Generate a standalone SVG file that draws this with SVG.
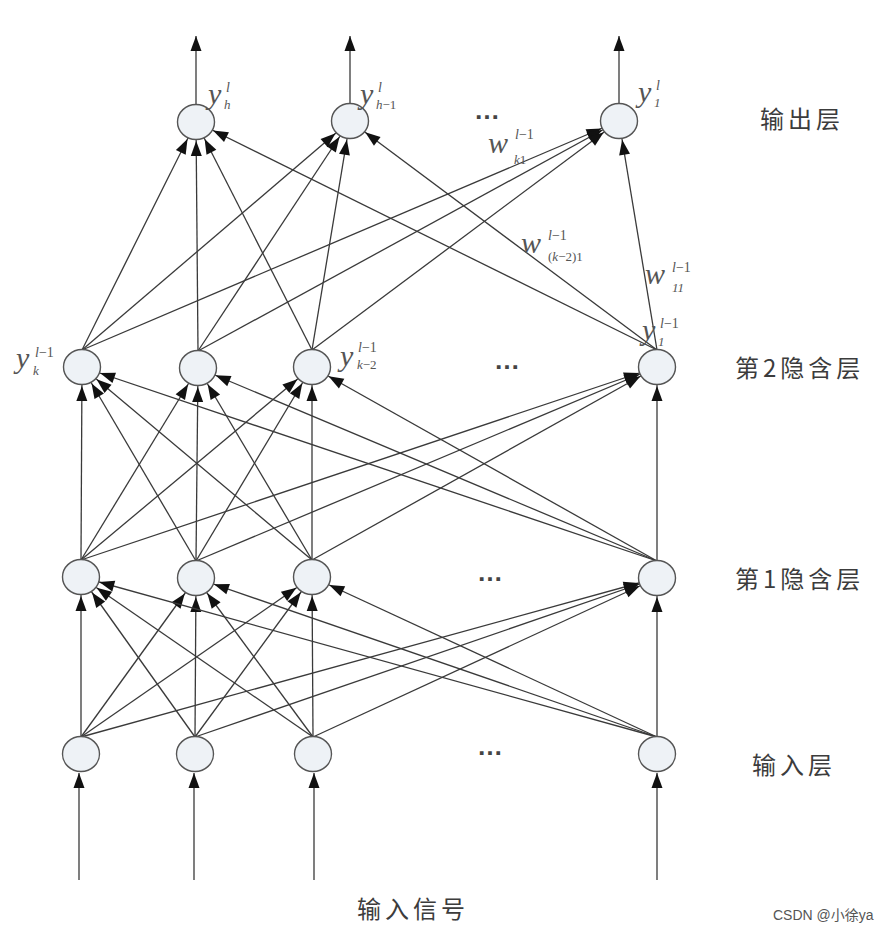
<svg xmlns="http://www.w3.org/2000/svg" width="892" height="943" viewBox="0 0 892 943">
<style>
.e{stroke:#3a3a3a;stroke-width:1.3;fill:none;marker-end:url(#ac)}
.t{stroke:#3a3a3a;stroke-width:1.3;fill:none;marker-end:url(#at)}
.n{fill:#eef2f6;stroke:#555;stroke-width:1.4}
.mv{font-family:"Liberation Serif",serif;font-style:italic;font-size:30px;fill:#555}
.ms{font-family:"Liberation Serif",serif;font-style:italic;font-size:14px;fill:#555}
.mb{font-family:"Liberation Serif",serif;font-style:italic;font-size:13px;fill:#555}
.cn{font-family:"Noto Sans CJK SC",sans-serif;font-size:24px;fill:#3c3c3c;letter-spacing:4px}
.dots{font-family:"Liberation Sans",sans-serif;font-size:26px;font-weight:bold;fill:#444}
</style>
<defs>
<marker id="ac" markerUnits="userSpaceOnUse" markerWidth="60" markerHeight="20" refX="34" refY="0" orient="auto" overflow="visible"><path d="M0,-5.5 L15,0 L0,5.5 z" fill="#111"/></marker>
<marker id="at" markerUnits="userSpaceOnUse" markerWidth="30" markerHeight="20" refX="15" refY="0" orient="auto" overflow="visible"><path d="M0,-5.5 L15,0 L0,5.5 z" fill="#111"/></marker>
</defs>
<rect width="892" height="943" fill="#fff"/>
<g id="connectors">
<line class="t" x1="79" y1="880" x2="79" y2="773"/>
<line class="t" x1="194" y1="880" x2="194" y2="773"/>
<line class="t" x1="314" y1="880" x2="314" y2="773"/>
<line class="t" x1="657" y1="880" x2="657" y2="773"/>
<line class="e" x1="81" y1="737" x2="81" y2="577"/>
<line class="e" x1="81" y1="737" x2="196" y2="578"/>
<line class="e" x1="81" y1="737" x2="312" y2="577"/>
<line class="e" x1="81" y1="737" x2="657" y2="578"/>
<line class="e" x1="195" y1="737" x2="81" y2="577"/>
<line class="e" x1="195" y1="737" x2="196" y2="578"/>
<line class="e" x1="195" y1="737" x2="312" y2="577"/>
<line class="e" x1="195" y1="737" x2="657" y2="578"/>
<line class="e" x1="313" y1="737" x2="81" y2="577"/>
<line class="e" x1="313" y1="737" x2="196" y2="578"/>
<line class="e" x1="313" y1="737" x2="312" y2="577"/>
<line class="e" x1="313" y1="737" x2="657" y2="578"/>
<line class="e" x1="657" y1="737" x2="81" y2="577"/>
<line class="e" x1="657" y1="737" x2="196" y2="578"/>
<line class="e" x1="657" y1="737" x2="312" y2="577"/>
<line class="e" x1="657" y1="737" x2="657" y2="578"/>
<line class="e" x1="81" y1="560" x2="82" y2="367"/>
<line class="e" x1="81" y1="560" x2="198" y2="368"/>
<line class="e" x1="81" y1="560" x2="312" y2="367"/>
<line class="e" x1="81" y1="560" x2="657" y2="367"/>
<line class="e" x1="196" y1="561" x2="82" y2="367"/>
<line class="e" x1="196" y1="561" x2="198" y2="368"/>
<line class="e" x1="196" y1="561" x2="312" y2="367"/>
<line class="e" x1="196" y1="561" x2="657" y2="367"/>
<line class="e" x1="312" y1="560" x2="82" y2="367"/>
<line class="e" x1="312" y1="560" x2="198" y2="368"/>
<line class="e" x1="312" y1="560" x2="312" y2="367"/>
<line class="e" x1="312" y1="560" x2="657" y2="367"/>
<line class="e" x1="657" y1="561" x2="82" y2="367"/>
<line class="e" x1="657" y1="561" x2="198" y2="368"/>
<line class="e" x1="657" y1="561" x2="312" y2="367"/>
<line class="e" x1="657" y1="561" x2="657" y2="367"/>
<line class="e" x1="82" y1="350" x2="196" y2="122"/>
<line class="e" x1="82" y1="350" x2="350" y2="121"/>
<line class="e" x1="82" y1="350" x2="619" y2="121"/>
<line class="e" x1="198" y1="351" x2="196" y2="122"/>
<line class="e" x1="198" y1="351" x2="350" y2="121"/>
<line class="e" x1="198" y1="351" x2="619" y2="121"/>
<line class="e" x1="312" y1="350" x2="196" y2="122"/>
<line class="e" x1="312" y1="350" x2="350" y2="121"/>
<line class="e" x1="312" y1="350" x2="619" y2="121"/>
<line class="e" x1="657" y1="350" x2="196" y2="122"/>
<line class="e" x1="657" y1="350" x2="350" y2="121"/>
<line class="e" x1="657" y1="350" x2="619" y2="121"/>
<line class="t" x1="196" y1="105" x2="196" y2="36"/>
<line class="t" x1="350" y1="104" x2="350" y2="36"/>
<line class="t" x1="619" y1="104" x2="619" y2="36"/>
</g>
<g id="out1"><ellipse class="n" cx="196" cy="122" rx="18.5" ry="17.5"/></g>
<g id="out2"><ellipse class="n" cx="350" cy="121" rx="18.5" ry="17.5"/></g>
<g id="out3"><ellipse class="n" cx="619" cy="121" rx="18.5" ry="17.5"/></g>
<g id="h2n1"><ellipse class="n" cx="82" cy="367" rx="18.5" ry="17.5"/></g>
<g id="h2n2"><ellipse class="n" cx="198" cy="368" rx="18.5" ry="17.5"/></g>
<g id="h2n3"><ellipse class="n" cx="312" cy="367" rx="18.5" ry="17.5"/></g>
<g id="h2n4"><ellipse class="n" cx="657" cy="367" rx="18.5" ry="17.5"/></g>
<g id="h1n1"><ellipse class="n" cx="81" cy="577" rx="18.5" ry="17.5"/></g>
<g id="h1n2"><ellipse class="n" cx="196" cy="578" rx="18.5" ry="17.5"/></g>
<g id="h1n3"><ellipse class="n" cx="312" cy="577" rx="18.5" ry="17.5"/></g>
<g id="h1n4"><ellipse class="n" cx="657" cy="578" rx="18.5" ry="17.5"/></g>
<g id="in1"><ellipse class="n" cx="81" cy="754" rx="18.5" ry="17.5"/></g>
<g id="in2"><ellipse class="n" cx="195" cy="754" rx="18.5" ry="17.5"/></g>
<g id="in3"><ellipse class="n" cx="313" cy="754" rx="18.5" ry="17.5"/></g>
<g id="in4"><ellipse class="n" cx="657" cy="754" rx="18.5" ry="17.5"/></g>
<g id="labels">
<text class="mv" x="208" y="104">y</text><text class="ms" x="226" y="92">l</text><text class="mb" x="224" y="109">h</text>
<text class="mv" x="360" y="104">y</text><text class="ms" x="378" y="92">l</text><text class="mb" x="376" y="109">h<tspan font-style="normal">−1</tspan></text>
<text class="mv" x="638" y="102">y</text><text class="ms" x="656" y="90">l</text><text class="mb" x="654" y="107" font-style="normal">1</text>
<text class="mv" x="488" y="153">w</text><text class="ms" x="515" y="139">l<tspan font-style="normal">−1</tspan></text><text class="mb" x="514" y="164">k<tspan font-style="normal">1</tspan></text>
<text class="mv" x="521" y="253">w</text><text class="ms" x="548" y="240">l<tspan font-style="normal">−1</tspan></text><text class="mb" x="548" y="261" font-size="11"><tspan font-style="normal">(</tspan>k<tspan font-style="normal">−2)1</tspan></text>
<text class="mv" x="645" y="284">w</text><text class="ms" x="672" y="272">l<tspan font-style="normal">−1</tspan></text><text class="mb" x="672" y="292" font-style="normal">11</text>
<text class="mv" x="642" y="340">y</text><text class="ms" x="660" y="328">l<tspan font-style="normal">−1</tspan></text><text class="mb" x="658" y="346" font-style="normal">1</text>
<text class="mv" x="16" y="368">y</text><text class="ms" x="35" y="357">l<tspan font-style="normal">−1</tspan></text><text class="mb" x="33" y="375">k</text>
<text class="mv" x="340" y="366">y</text><text class="ms" x="358" y="352">l<tspan font-style="normal">−1</tspan></text><text class="mb" x="357" y="369">k<tspan font-style="normal">−2</tspan></text>
<text class="dots" x="474" y="119">…</text>
<text class="dots" x="494" y="369">…</text>
<text class="dots" x="477" y="581">…</text>
<text class="dots" x="477" y="755">…</text>
<text class="cn" x="760" y="128">输出层</text>
<text class="cn" x="735" y="377">第2隐含层</text>
<text class="cn" x="735" y="588">第1隐含层</text>
<text class="cn" x="752" y="774">输入层</text>
<text class="cn" x="357" y="918">输入信号</text>
<text x="773" y="920" font-family="'Liberation Sans','Noto Sans CJK SC',sans-serif" font-size="14" fill="#555">CSDN @小徐ya</text>
</g>
</svg>
